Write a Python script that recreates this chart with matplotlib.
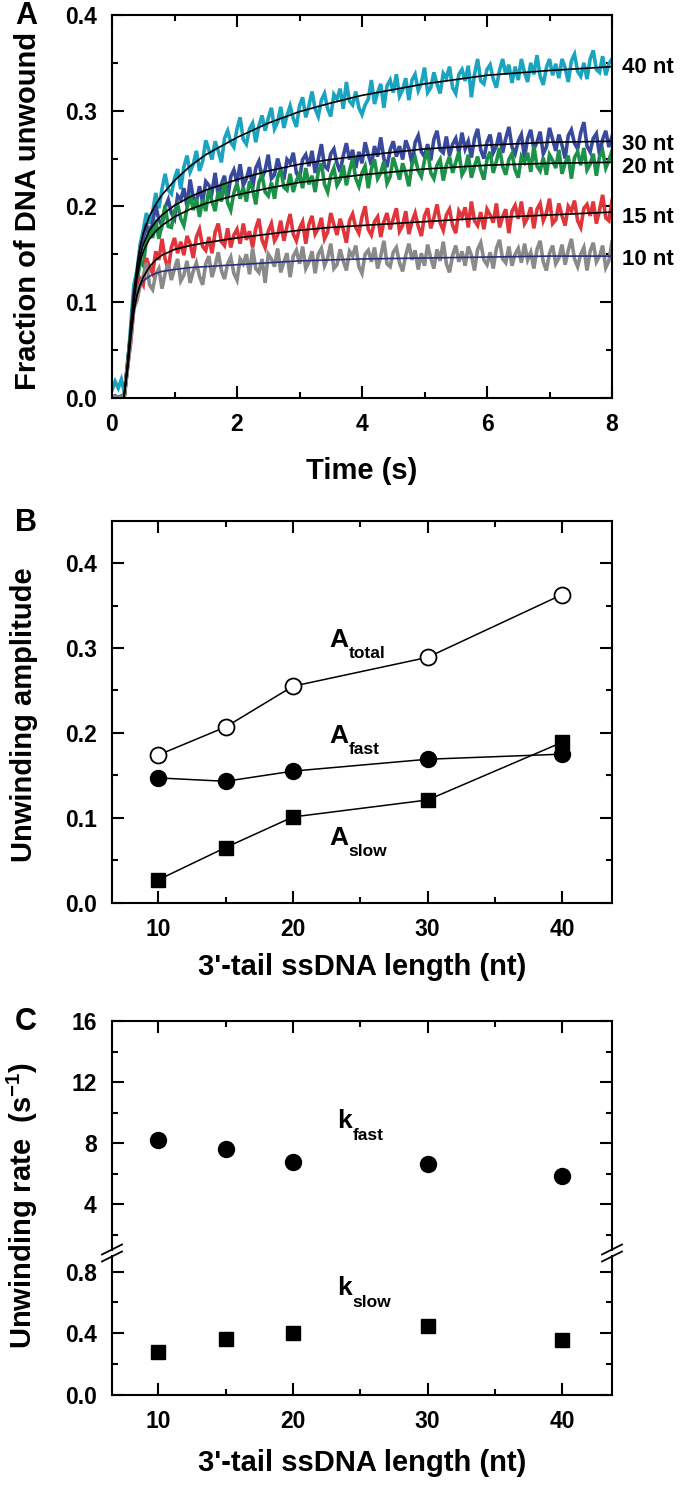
import numpy as np
import matplotlib
matplotlib.use("Agg")
import matplotlib.pyplot as plt
from matplotlib.lines import Line2D
from matplotlib.ticker import MultipleLocator, FixedLocator

plt.rcParams['font.family'] = ['Liberation Sans', 'DejaVu Sans']
plt.rcParams['font.weight'] = 'bold'
plt.rcParams['axes.linewidth'] = 1.5
plt.rcParams['mathtext.fontset'] = 'custom'
plt.rcParams['mathtext.rm'] = 'Liberation Sans:bold'
plt.rcParams['mathtext.bf'] = 'Liberation Sans:bold'

# ---------------- Panel A data (fraction unwound, in thousandths) ----------------
sample_times = np.linspace(0.0, 8.0, 161)   # 0.05 s sampling grid

trace_40nt = [8, 17, 10, 19, 5, 33, 76, 118, 133, 160,
              175, 193, 182, 194, 214, 198, 218, 234, 217, 213,
              229, 239, 218, 241, 253, 236, 244, 258, 237, 247,
              269, 259, 249, 268, 258, 246, 271, 279, 267, 262,
              281, 293, 270, 265, 281, 287, 267, 284, 295, 279,
              292, 303, 281, 288, 304, 282, 295, 305, 292, 283,
              305, 314, 293, 305, 320, 302, 294, 311, 318, 302,
              294, 317, 312, 323, 302, 330, 310, 306, 320, 303,
              296, 306, 312, 332, 307, 319, 328, 303, 326, 332,
              319, 338, 315, 322, 334, 311, 332, 338, 321, 329,
              345, 319, 324, 340, 328, 318, 339, 334, 346, 324,
              318, 338, 343, 331, 347, 314, 338, 354, 331, 328,
              343, 348, 333, 324, 342, 354, 338, 348, 329, 346,
              332, 354, 340, 330, 350, 338, 358, 336, 327, 345,
              354, 337, 349, 334, 354, 345, 330, 352, 359, 341,
              336, 350, 333, 354, 363, 343, 340, 357, 337, 349,
              354]
trace_30nt = [0, 2, 0, 1, 3, 38, 68, 109, 126, 153,
              166, 182, 167, 183, 201, 186, 180, 199, 207, 193,
              187, 211, 207, 219, 200, 228, 209, 205, 221, 204,
              226, 222, 215, 235, 211, 223, 232, 208, 231, 238,
              225, 244, 222, 229, 241, 219, 240, 247, 229, 238,
              254, 229, 233, 250, 238, 228, 249, 245, 256, 235,
              229, 249, 254, 242, 258, 235, 249, 265, 242, 239,
              255, 260, 245, 236, 253, 266, 249, 259, 240, 257,
              245, 267, 254, 243, 263, 252, 272, 250, 241, 259,
              268, 252, 263, 249, 269, 260, 245, 267, 274, 257,
              252, 265, 248, 270, 279, 259, 256, 273, 253, 265,
              271, 256, 277, 260, 268, 251, 271, 281, 259, 250,
              267, 275, 256, 263, 277, 256, 271, 283, 262, 255,
              268, 275, 251, 271, 280, 260, 267, 278, 255, 262,
              282, 270, 258, 275, 264, 250, 274, 280, 266, 260,
              277, 288, 263, 257, 271, 276, 254, 270, 279, 262,
              273]
trace_20nt = [0, 1, 0, 2, 3, 36, 66, 101, 120, 143,
              138, 165, 175, 167, 186, 166, 182, 201, 179, 178,
              195, 202, 187, 180, 198, 212, 196, 208, 189, 207,
              195, 218, 205, 195, 216, 205, 226, 204, 196, 214,
              224, 208, 220, 205, 226, 218, 202, 225, 233, 215,
              211, 225, 208, 230, 239, 220, 217, 234, 215, 227,
              234, 219, 240, 223, 232, 215, 236, 245, 223, 215,
              232, 240, 222, 228, 243, 222, 237, 250, 229, 221,
              235, 242, 219, 239, 249, 229, 235, 247, 224, 231,
              251, 240, 228, 245, 235, 221, 244, 251, 237, 231,
              248, 259, 235, 229, 243, 249, 227, 243, 252, 235,
              246, 257, 233, 239, 254, 230, 242, 252, 238, 228,
              249, 257, 235, 247, 261, 242, 233, 249, 255, 238,
              230, 252, 246, 256, 236, 263, 242, 237, 251, 233,
              254, 248, 240, 259, 234, 245, 253, 229, 251, 257,
              243, 261, 238, 244, 255, 232, 252, 258, 240, 248,
              258]
trace_15nt = [0, 0, 1, 0, 3, 33, 58, 95, 103, 124,
              118, 146, 137, 130, 153, 144, 166, 145, 134, 157,
              167, 151, 163, 149, 169, 161, 146, 168, 176, 158,
              154, 168, 151, 173, 182, 163, 159, 177, 157, 170,
              176, 161, 182, 165, 174, 157, 177, 187, 165, 157,
              174, 182, 164, 170, 185, 164, 179, 192, 171, 164,
              177, 184, 161, 181, 190, 171, 177, 188, 166, 173,
              193, 181, 170, 187, 176, 162, 185, 192, 178, 172,
              189, 200, 176, 170, 184, 189, 168, 184, 193, 176,
              187, 198, 174, 180, 195, 171, 184, 193, 179, 169,
              190, 198, 177, 188, 202, 183, 175, 191, 197, 180,
              172, 195, 189, 199, 178, 205, 185, 180, 194, 176,
              197, 191, 183, 203, 178, 189, 197, 172, 195, 201,
              187, 205, 182, 188, 199, 177, 197, 203, 185, 193,
              208, 182, 186, 203, 190, 180, 200, 195, 206, 185,
              178, 198, 202, 190, 205, 182, 196, 212, 188, 185,
              206]
trace_10nt = [0, 1, 0, 0, 3, 31, 60, 93, 102, 117,
              127, 141, 118, 113, 129, 135, 114, 130, 140, 123,
              135, 145, 122, 128, 143, 120, 132, 141, 127, 118,
              140, 148, 126, 138, 152, 133, 124, 140, 147, 130,
              123, 145, 140, 150, 129, 156, 135, 131, 145, 120,
              150, 145, 137, 156, 131, 142, 151, 126, 148, 154,
              140, 158, 135, 142, 153, 130, 150, 156, 138, 146,
              161, 135, 139, 155, 143, 133, 153, 148, 159, 137,
              130, 150, 154, 142, 157, 135, 148, 164, 140, 137,
              152, 157, 141, 132, 149, 161, 144, 154, 134, 151,
              138, 160, 146, 135, 155, 143, 163, 140, 131, 149,
              159, 142, 153, 138, 158, 149, 133, 155, 162, 144,
              139, 152, 135, 156, 165, 145, 141, 158, 138, 150,
              156, 141, 161, 144, 152, 135, 155, 164, 142, 133,
              151, 159, 140, 146, 160, 139, 154, 166, 145, 137,
              150, 157, 133, 153, 162, 142, 148, 159, 136, 143,
              163]

# fitted curves
fit_times = [0.19, 0.25, 0.3, 0.35, 0.4, 0.45, 0.5, 0.6, 0.7, 0.8, 1.0, 1.25,
             1.5, 2.0, 2.5, 3.0, 3.5, 4.0, 5.0, 6.0, 7.0, 8.0]
fit_10nt = [0, 0.030, 0.065, 0.093, 0.108, 0.117, 0.122, 0.127, 0.130, 0.132, 0.134,
            0.136, 0.137, 0.139, 0.141, 0.143, 0.144, 0.145, 0.146, 0.147, 0.148, 0.148]
fit_15nt = [0, 0.030, 0.062, 0.090, 0.107, 0.118, 0.126, 0.137, 0.144, 0.149, 0.155,
            0.159, 0.162, 0.167, 0.171, 0.175, 0.178, 0.180, 0.184, 0.188, 0.191, 0.194]
fit_20nt = [0, 0.035, 0.070, 0.100, 0.125, 0.142, 0.153, 0.166, 0.174, 0.180, 0.189,
            0.197, 0.203, 0.212, 0.219, 0.225, 0.229, 0.233, 0.239, 0.243, 0.245, 0.246]
fit_30nt = [0, 0.035, 0.072, 0.104, 0.130, 0.148, 0.160, 0.175, 0.184, 0.191, 0.201,
            0.210, 0.217, 0.228, 0.237, 0.244, 0.249, 0.253, 0.260, 0.264, 0.267, 0.268]
fit_40nt = [0, 0.035, 0.075, 0.110, 0.138, 0.158, 0.172, 0.190, 0.202, 0.212, 0.227,
            0.242, 0.254, 0.272, 0.287, 0.299, 0.308, 0.316, 0.328, 0.337, 0.342, 0.346]

trace_labels = ['10 nt', '15 nt', '20 nt', '30 nt', '40 nt']

# ---------------- Panel B / C data ----------------
tail_length = [10, 15, 20, 30, 40]
A_total = [0.174, 0.207, 0.255, 0.289, 0.363]
A_fast = [0.147, 0.143, 0.155, 0.169, 0.175]
A_slow = [0.027, 0.065, 0.101, 0.121, 0.189]
k_fast = [8.17, 7.58, 6.78, 6.62, 5.81]
k_slow = [0.277, 0.363, 0.404, 0.448, 0.357]

# ---------------- layout helpers ----------------
W, H = 680, 1493
fig = plt.figure(figsize=(W / 100, H / 100), dpi=100)


def rect(l, t, r, b):
    return [l / W, 1 - b / H, (r - l) / W, (b - t) / H]


def fx(px):
    return px / W


def fy(py):
    return 1 - py / H


TICK_FS = 16.5
LABEL_FS = 21


def style(ax, top=True, bottom=True):
    ax.tick_params(which='both', direction='in', top=top, bottom=bottom,
                   left=True, right=True, width=1.5, labelsize=TICK_FS, pad=11)
    ax.tick_params(which='major', length=8.5)
    ax.tick_params(which='minor', length=4.5)
    for lab in ax.get_xticklabels() + ax.get_yticklabels():
        lab.set_fontweight('bold')


# ---------------- Panel A ----------------
axA = fig.add_axes(rect(112, 15, 612, 397.7))
colors = {'10 nt': '#8a8a8a', '15 nt': '#e0353b', '20 nt': '#1c9249',
          '30 nt': '#394a9c', '40 nt': '#1aa4c0'}
traces = {'10 nt': trace_10nt, '15 nt': trace_15nt, '20 nt': trace_20nt,
          '30 nt': trace_30nt, '40 nt': trace_40nt}
fits = {'10 nt': fit_10nt, '15 nt': fit_15nt, '20 nt': fit_20nt,
        '30 nt': fit_30nt, '40 nt': fit_40nt}
for name in ['40 nt', '30 nt', '20 nt', '15 nt', '10 nt']:
    axA.plot(sample_times, np.array(traces[name]) / 1000.0, color=colors[name],
             lw=2.6, solid_joinstyle='miter', zorder=2)
for name in trace_labels:
    fc = '#2b2f7e' if name == '10 nt' else 'black'
    axA.plot(fit_times, fits[name], color=fc, lw=1.2, zorder=3)

axA.set_xlim(0, 8)
axA.set_ylim(0, 0.4)
axA.set_yticks([0, 0.1, 0.2, 0.3, 0.4], ['0.0', '0.1', '0.2', '0.3', '0.4'])
axA.set_xticks([0, 2, 4, 6, 8], ['0', '2', '4', '6', '8'])
axA.xaxis.set_minor_locator(FixedLocator([1, 3, 5, 7]))
axA.yaxis.set_minor_locator(FixedLocator([0.05, 0.15, 0.25, 0.35]))
style(axA)

label_y = {'40 nt': 0.3394, '30 nt': 0.2589, '20 nt': 0.2349, '15 nt': 0.1826, '10 nt': 0.1387}
for name in trace_labels:
    axA.annotate(name, xy=(1.02, label_y[name]), xycoords=('axes fraction', 'data'),
                 fontsize=16, fontweight='bold', ha='left', va='baseline',
                 annotation_clip=False)

fig.text(fx(26), fy(16), 'A', fontsize=22, fontweight='bold', ha='center', va='center')
fig.text(fx(28), fy(211), 'Fraction of DNA unwound', fontsize=LABEL_FS,
         fontweight='bold', rotation=90, ha='center', va='center')
fig.text(fx(362), fy(471), 'Time (s)', fontsize=LABEL_FS, fontweight='bold',
         ha='center', va='center')

# ---------------- Panel B ----------------
axB = fig.add_axes(rect(112, 520.7, 612, 902.7))
axB.plot(tail_length, A_total, color='black', lw=1.1, marker='o', ms=11.5,
         mfc='white', mec='black', mew=1.3, zorder=3)
axB.plot(tail_length, A_fast, color='black', lw=1.1, marker='o', ms=11.5,
         mfc='black', mec='black', zorder=3)
axB.plot(tail_length, A_slow, color='black', lw=1.1, marker='s', ms=10,
         mfc='black', mec='black', zorder=4)
axB.set_xlim(6.56, 43.7)
axB.set_ylim(0, 0.45)
axB.set_xticks([10, 20, 30, 40], ['10', '20', '30', '40'])
axB.xaxis.set_minor_locator(FixedLocator([15, 25, 35]))
axB.set_yticks([0, 0.1, 0.2, 0.3, 0.4], ['0.0', '0.1', '0.2', '0.3', '0.4'])
axB.yaxis.set_minor_locator(FixedLocator([0.05, 0.15, 0.25, 0.35]))
style(axB)


def sub_label(ax, x, y, main, sub, dx, dy):
    ax.text(x, y, main, fontsize=19, fontweight='bold', ha='left', va='baseline')
    ax.annotate(sub, xy=(x, y), xytext=(dx, dy), textcoords='offset points',
                fontsize=12.5, fontweight='bold', ha='left', va='baseline')


sub_label(axB, 22.67, 0.3014, 'A', 'total', 14.0, -8.0)
sub_label(axB, 22.67, 0.1882, 'A', 'fast', 14.0, -8.0)
sub_label(axB, 22.67, 0.0681, 'A', 'slow', 14.0, -8.0)

fig.text(fx(26), fy(523), 'B', fontsize=22, fontweight='bold', ha='center', va='center')
fig.text(fx(24), fy(715), 'Unwinding amplitude', fontsize=LABEL_FS,
         fontweight='bold', rotation=90, ha='center', va='center')
fig.text(fx(362), fy(967), "3'-tail ssDNA length (nt)", fontsize=LABEL_FS,
         fontweight='bold', ha='center', va='center')

# ---------------- Panel C (broken axis) ----------------
axCu = fig.add_axes(rect(112, 1021, 612, 1249.75))
axCl = fig.add_axes(rect(112, 1256.2, 612, 1395))
axCu.plot(tail_length, k_fast, linestyle='none', marker='o', ms=11.5,
          mfc='black', mec='black')
axCl.plot(tail_length, k_slow, linestyle='none', marker='s', ms=10,
          mfc='black', mec='black')
for ax in (axCu, axCl):
    ax.set_xlim(6.56, 43.7)
    ax.set_xticks([10, 20, 30, 40], ['10', '20', '30', '40'])
    ax.xaxis.set_minor_locator(FixedLocator([15, 25, 35]))
axCu.set_ylim(1.0, 16)
axCu.set_yticks([4, 8, 12, 16], ['4', '8', '12', '16'])
axCu.yaxis.set_minor_locator(FixedLocator([2, 6, 10, 14]))
axCl.set_ylim(0, 0.9)
axCl.set_yticks([0, 0.4, 0.8], ['0.0', '0.4', '0.8'])
axCl.yaxis.set_minor_locator(FixedLocator([0.2, 0.6]))
axCu.spines['bottom'].set_visible(False)
axCl.spines['top'].set_visible(False)
style(axCu, top=True, bottom=False)
axCu.tick_params(labelbottom=False)
style(axCl, top=False, bottom=True)

sub_label(axCu, 23.3, 8.98, 'k', 'fast', 11.0, -8.6)
sub_label(axCl, 23.3, 0.6485, 'k', 'slow', 11.0, -8.6)

# break marks
yb = 1253.0
for xs in (112, 612):
    for off in (-3.5, 3.5):
        fig.add_artist(Line2D([fx(xs - 10), fx(xs + 10)],
                              [fy(yb + off + 5), fy(yb + off - 5)],
                              transform=fig.transFigure, color='black', lw=1.3))

fig.text(fx(26), fy(1022), 'C', fontsize=22, fontweight='bold', ha='center', va='center')
fig.text(fx(22), fy(1205), 'Unwinding rate  (s$^{-1}$)', fontsize=LABEL_FS,
         fontweight='bold', rotation=90, ha='center', va='center')
fig.text(fx(362), fy(1463), "3'-tail ssDNA length (nt)", fontsize=LABEL_FS,
         fontweight='bold', ha='center', va='center')

fig.savefig('out.png', dpi=100)
